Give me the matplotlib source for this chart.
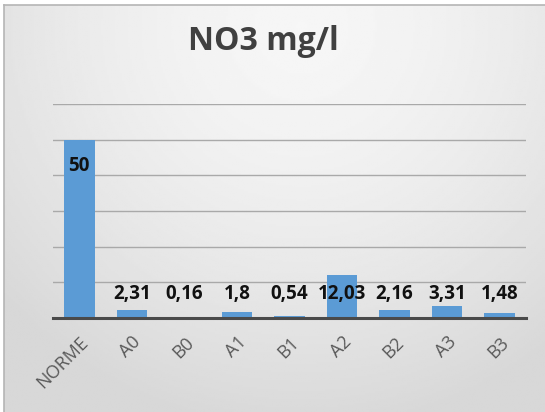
import numpy as np
import matplotlib.pyplot as plt

categories = ["NORME", "A0", "B0", "A1", "B1", "A2", "B2", "A3", "B3"]
values = [50, 2.31, 0.16, 1.8, 0.54, 12.03, 2.16, 3.31, 1.48]
title = "NO3 mg/l"

plt.rcParams["font.family"] = ["Open Sans", "DejaVu Sans"]

W, H = 545, 412
fig = plt.figure(figsize=(W / 100, H / 100), dpi=100, facecolor="white")

# soft radial grey backdrop for the chart frame
bg = fig.add_axes([4 / W, 0, 1 - 4 / W, 1 - 5 / H], zorder=-5)
yy, xx = np.mgrid[0:1:200j, 0:1:260j]
r = np.sqrt(((xx - 0.55) / 0.75) ** 2 + ((yy - 0.05) / 1.0) ** 2)
shade = 0.965 - 0.12 * np.clip(r, 0, 1) ** 1.6
bg.imshow(shade, cmap="gray", vmin=0, vmax=1, aspect="auto", extent=[0, 1, 1, 0])
bg.set_xlim(0, 1)
bg.set_ylim(1, 0)
bg.set_xticks([])
bg.set_yticks([])
for side in ["right", "bottom"]:
    bg.spines[side].set_visible(False)
for side in ["top", "left"]:
    bg.spines[side].set_color("#b5b5b5")
    bg.spines[side].set_linewidth(1.2)

ax = fig.add_axes([53 / W, 1 - 318 / H, 473 / W, 214 / H])
ax.patch.set_alpha(0)
x = np.arange(len(categories))
ax.bar(x, values, width=0.58, color="#5b9bd5", zorder=3)

ax.set_xlim(-0.5, len(categories) - 0.5)
ax.set_ylim(0, 60)
ax.set_yticks(np.arange(10, 61, 10))
ax.yaxis.grid(True, color="#a9a9a9", lw=1.0, zorder=0)
ax.tick_params(axis="y", left=False, labelleft=False)
ax.tick_params(axis="x", length=0, pad=11)
ax.set_xticks(x)
ax.set_xticklabels(categories, rotation=45, ha="right", rotation_mode="anchor",
                   fontsize=13, color="#595959")
for side in ["top", "right", "left"]:
    ax.spines[side].set_visible(False)
ax.spines["bottom"].set_color("#4a4a4a")
ax.spines["bottom"].set_linewidth(2.2)
ax.spines["bottom"].set_zorder(4)

# value labels, written with a decimal comma
for xi, v in zip(x, values):
    txt = f"{v:g}".replace(".", ",")
    ypos = max(v - 7.4, 6.6)
    ax.text(xi, ypos, txt, ha="center", va="center", fontsize=13.5,
            fontweight="bold", color="#111111", zorder=5)

fig.text(0.483, 1 - 42 / H, title, ha="center", va="center", fontsize=23,
         fontweight="bold", color="#404040")

fig.savefig("out.png", dpi=100)
